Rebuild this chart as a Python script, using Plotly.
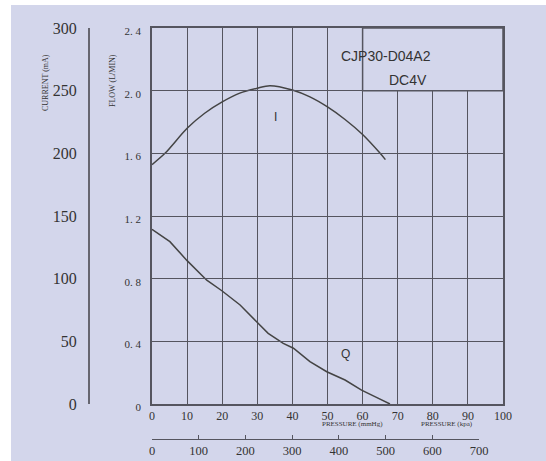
import plotly.graph_objects as go

# ---- data ----
pressure_q = [0, 5.1, 10, 15.6, 19.9, 25.1, 29.8, 33.1, 37.4, 40.3, 45, 49.8, 55, 59.7, 63.5, 67.8]
flow_q = [1.115, 1.036, 0.915, 0.79, 0.723, 0.632, 0.525, 0.451, 0.387, 0.356, 0.27, 0.206, 0.153, 0.089, 0.047, 0.0]

pressure_i = [0, 3.7, 10, 15, 20, 25, 30, 33.6, 40, 45, 50, 55, 60, 65, 66.5]
current_i = [191, 200, 220, 232, 241, 248, 252, 254, 250.5, 245, 237, 227, 215, 200, 195]

flow_ticks = [0, 0.4, 0.8, 1.2, 1.6, 2.0, 2.4]
flow_ticktext = ["0", "0. 4", "0. 8", "1. 2", "1. 6", "2. 0", "2. 4"]
current_ticks = [0, 50, 100, 150, 200, 250, 300]
pressure_ticks = [0, 10, 20, 30, 40, 50, 60, 70, 80, 90, 100]
pressure2_ticks = [0, 100, 200, 300, 400, 500, 600, 700]

W, H = 546, 461
BG = "#d3d6eb"
GRID = "#55555f"
TXT = "#333333"
SERIF = "Liberation Serif"
SANS = "Liberation Sans"

def px(x):
    return x / W

def py(y):
    return 1 - y / H

fig = go.Figure()

fig.add_trace(go.Scatter(x=pressure_q, y=flow_q, mode="lines",
                         line=dict(color="#444444", width=1.5),
                         xaxis="x", yaxis="y", showlegend=False, hoverinfo="skip"))
fig.add_trace(go.Scatter(x=pressure_i, y=current_i, mode="lines",
                         line=dict(color="#444444", width=1.5, shape="spline", smoothing=0.8),
                         xaxis="x", yaxis="y2", showlegend=False, hoverinfo="skip"))
# invisible trace so the second pressure axis is drawn
fig.add_trace(go.Scatter(x=[pressure2_ticks[0], pressure2_ticks[-1]], y=[0, 0], mode="markers",
                         marker=dict(opacity=0), xaxis="x2", yaxis="y",
                         showlegend=False, hoverinfo="skip"))

fig.update_layout(
    width=W, height=H,
    margin=dict(l=0, r=0, t=0, b=0),
    paper_bgcolor="white",
    plot_bgcolor="rgba(0,0,0,0)",
    xaxis=dict(domain=[px(152), px(503)], range=[0, 100], tickvals=pressure_ticks,
               showgrid=True, gridcolor=GRID, gridwidth=1.3,
               showline=True, linecolor=GRID, linewidth=1.5, mirror=True,
               zeroline=False, ticks="", automargin=False,
               tickfont=dict(family=SERIF, size=12, color=TXT), ticklabelstandoff=0),
    yaxis=dict(domain=[py(404), py(28)], range=[0, 2.4], tickvals=flow_ticks,
               ticktext=flow_ticktext,
               showgrid=True, gridcolor=GRID, gridwidth=1.3,
               showline=True, linecolor=GRID, linewidth=1.5, mirror=True,
               zeroline=False, ticks="", automargin=False, ticklabelshift=3,
               tickfont=dict(family=SERIF, size=11, color=TXT), ticklabelstandoff=7),
    yaxis2=dict(overlaying="y", anchor="free", position=px(88.7), side="left",
                range=[0, 300], tickvals=current_ticks, showgrid=False, zeroline=False,
                showline=True, linecolor="#666670", linewidth=1.5, ticks="",
                automargin=False, ticklabelstandoff=8,
                tickfont=dict(family=SERIF, size=16, color=TXT)),
    xaxis2=dict(anchor="free", position=py(439.3),
                domain=[px(152), px(479)], range=[0, 700], tickvals=pressure2_ticks,
                showgrid=False, zeroline=False, showline=True, linecolor=GRID,
                linewidth=1.3, ticks="inside", ticklen=4, tickcolor=GRID, tickwidth=1.3,
                automargin=False,
                tickfont=dict(family=SERIF, size=12.5, color=TXT)),
    shapes=[
        dict(type="rect", xref="paper", yref="paper", x0=px(11), x1=1, y0=0, y1=py(5),
             fillcolor=BG, line=dict(width=0), layer="below"),
        dict(type="rect", xref="x", yref="y", x0=60, x1=100, y0=2.0, y1=2.4,
             fillcolor=BG, line=dict(color=GRID, width=1.5), layer="between"),
    ],
    annotations=[
        dict(text="CJP30-D04A2", x=432.7 / W, y=py(46), xref="paper", yref="paper",
             showarrow=False, font=dict(family=SANS, size=14, color=TXT)),
        dict(text="DC4V", x=429 / W, y=py(69.5), xref="paper", yref="paper",
             showarrow=False, font=dict(family=SANS, size=14, color=TXT)),
        dict(text="I", x=275 / W, y=py(108), xref="paper", yref="paper",
             showarrow=False, font=dict(family=SANS, size=12, color=TXT)),
        dict(text="Q", x=345.7 / W, y=py(362.7), xref="paper", yref="paper",
             showarrow=False, font=dict(family=SANS, size=12, color=TXT)),
        dict(text="CURRENT (mA)", x=39 / W, y=py(52), xref="paper", yref="paper",
             textangle=-90, showarrow=False, font=dict(family=SERIF, size=8, color=TXT)),
        dict(text="FLOW (L/MIN)", x=106 / W, y=py(52), xref="paper", yref="paper",
             textangle=-90, showarrow=False, font=dict(family=SERIF, size=8, color=TXT)),
        dict(text="PRESSURE (mmHg)", x=385 / W, y=py(430), xref="paper", yref="paper",
             showarrow=False, font=dict(family=SERIF, size=7, color=TXT)),
        dict(text="PRESSURE (kpa)", x=475 / W, y=py(430), xref="paper", yref="paper",
             showarrow=False, font=dict(family=SERIF, size=7, color=TXT)),
    ],
)

fig.write_html("out.html", config={"displayModeBar": False},
               post_script="document.body.style.margin='0px';")
